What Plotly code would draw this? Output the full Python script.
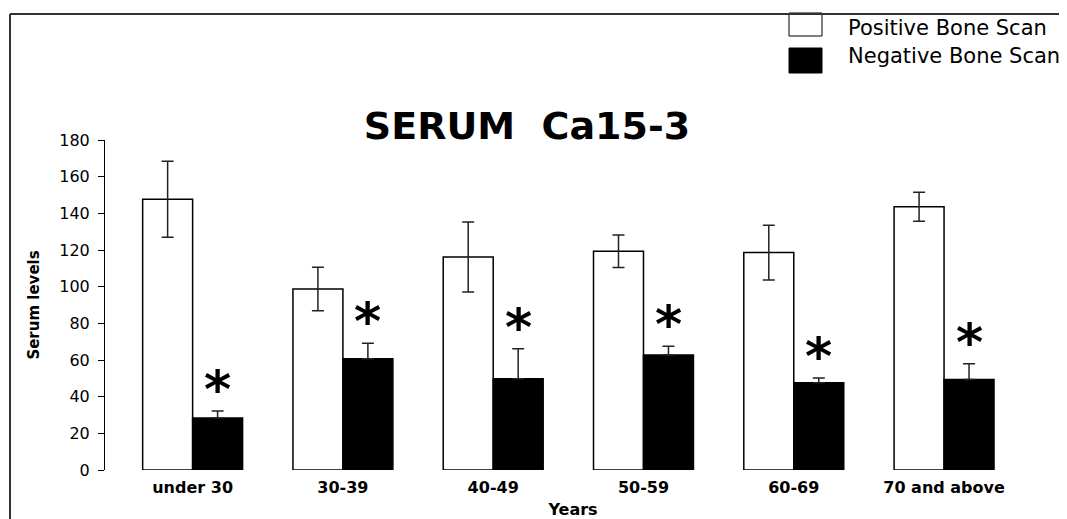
import plotly.graph_objects as go

categories = ["under 30", "30-39", "40-49", "50-59", "60-69", "70 and above"]
positive = [147.7, 98.7, 116.2, 119.3, 118.6, 143.6]
positive_err = [20.7, 11.9, 19.1, 8.9, 14.9, 7.9]
negative = [28.4, 60.7, 49.8, 62.7, 47.6, 49.3]
negative_err = [3.8, 8.4, 16.4, 4.8, 2.6, 8.7]
significant = ["*", "*", "*", "*", "*", "*"]
series_names = ["Positive Bone Scan", "Negative Bone Scan"]

# page body has an 8px margin: work in screen pixels and shift
OFF = 8
W, H = 1067, 519
L, R, T, B = 105 - OFF, 26 + OFF, 140 - OFF, 49 + OFF
PW, PH = W - L - R, H - T - B


def px(x):
    return (x - OFF - L) / PW


def py(y):
    return (H - B - (y - OFF)) / PH


BOLD = "DejaVu Sans"
fig = go.Figure()
fig.add_trace(go.Bar(
    x=categories, y=positive, name=series_names[0],
    marker=dict(color="white", line=dict(color="black", width=1.5)),
    error_y=dict(type="data", array=positive_err, color="#222", thickness=1.5, width=6),
))
fig.add_trace(go.Bar(
    x=categories, y=negative, name=series_names[1],
    marker=dict(color="black", line=dict(color="black", width=1.5)),
    error_y=dict(type="data", symmetric=False, array=negative_err,
                 arrayminus=[0] * len(negative), color="#222", thickness=1.5, width=6),
))

annotations = []
for c, v, e, s in zip(categories, negative, negative_err, significant):
    annotations.append(dict(
        x=c, y=v + e, xref="x", yref="y", text=f"<b>{s}</b>", showarrow=False,
        xshift=25, yanchor="bottom", yshift=-10,
        font=dict(family=BOLD, size=52, color="black"),
    ))

# manual legend
shapes = [
    dict(type="rect", xref="paper", yref="paper", x0=px(789), x1=px(822), y0=py(36), y1=py(13),
         fillcolor="white", line=dict(color="black", width=1)),
    dict(type="rect", xref="paper", yref="paper", x0=px(789), x1=px(822), y0=py(73), y1=py(48),
         fillcolor="black", line=dict(color="black", width=1)),
    # frame
    dict(type="line", xref="paper", yref="paper", x0=px(10), x1=px(1080), y0=py(14), y1=py(14),
         line=dict(color="#333", width=2)),
    dict(type="line", xref="paper", yref="paper", x0=px(10), x1=px(10), y0=py(14), y1=py(530),
         line=dict(color="#333", width=2)),
]
annotations.append(dict(x=px(846), y=py(28), xref="paper", yref="paper", text=series_names[0],
                        showarrow=False, xanchor="left", yanchor="middle",
                        font=dict(family="DejaVu Sans", size=21, color="black")))
annotations.append(dict(x=px(846), y=py(56), xref="paper", yref="paper", text=series_names[1],
                        showarrow=False, xanchor="left", yanchor="middle",
                        font=dict(family="DejaVu Sans", size=21, color="black")))

fig.update_layout(
    width=W, height=H,
    margin=dict(l=L, r=R, t=T, b=B, pad=0),
    paper_bgcolor="white", plot_bgcolor="white",
    showlegend=False,
    barmode="group", bargap=0.335, bargroupgap=0,
    title=dict(text="<b>SERUM\u00a0\u00a0Ca15-3</b>", x=(527 - OFF) / W, xanchor="center",
               y=1 - (126 - OFF) / H, yanchor="middle",
               font=dict(family=BOLD, size=38, color="black")),
    xaxis=dict(range=[-0.583, 5.645], showline=False, ticks="", showgrid=False, zeroline=False,
               tickfont=dict(family=BOLD, size=16, color="black"),
               tickprefix="<b>", ticksuffix="</b>", ticklabelstandoff=6,
               title=dict(text="<b>Years</b>", font=dict(family=BOLD, size=16, color="black"),
                          standoff=7)),
    yaxis=dict(range=[0, 180], dtick=20, showline=True, linecolor="black", linewidth=1,
               ticks="outside", ticklen=6, tickcolor="black", tickwidth=1,
               showgrid=False, zeroline=False, ticklabelstandoff=5,
               tickfont=dict(family="DejaVu Sans", size=16, color="black"),
               title=dict(text="<b>Serum levels</b>", font=dict(family=BOLD, size=15, color="black"),
                          standoff=16)),
    shapes=shapes, annotations=annotations,
)

fig.write_html("out.html")
